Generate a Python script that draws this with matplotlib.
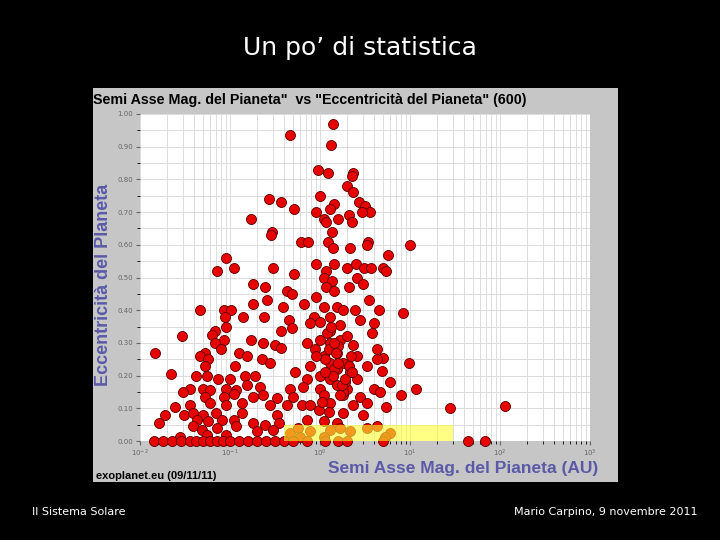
import matplotlib
matplotlib.use("Agg")
import matplotlib.pyplot as plt
import numpy as np
from matplotlib.patches import Rectangle
from matplotlib.ticker import LogLocator, FixedLocator, NullFormatter

# log10 of semi-major axis (AU), eccentricity
log_a = [-0.33,0.148,0.12,-0.02,0.085,0.37,0.35,0.3,0,0.37,-0.57,-0.43,0.15,0.43,0.5,-0.04,-0.29,0.11,0.32,0.55,0.47,
 -0.77,0.04,0.2,0.35,0.07,0.13,-0.53,-0.54,-0.21,-0.13,0.09,0.53,0.52,1.0,0.14,0.33,0.75,-1.04,-0.96,-0.52,-0.04,0.15,
 0.3,0.4,0.49,0.57,0.7,0.73,-1.15,-0.29,0.07,0.04,0.13,0.41,-0.75,0.48,-0.61,0.07,0.32,0.15,-0.37,-0.31,-0.04,-0.59,
 -0.18,-0.74,0.54,-0.41,0.04,0.19,0.26,0.39,-1.33,-1.07,-0.99,0.65,0.92,-1.06,-0.86,-0.62,-0.07,-0.34,0.11,0.44,-0.11,
 0,0.6,-1.04,-0.31,0.22,-1.17,-0.43,0.11,-1.2,0.58,-1.53,-0.77,-1.07,-1.17,-0.63,-0.14,0.11,0.37,-0.5,-0.43,-1.1,-0.06,
 0.63,-1.83,-1.28,-0.9,0.19,-1.33,-0.81,0.04,0.41,0.7,-1.24,-0.65,0.63,-0.56,0.11,0.26,0.99,-1.28,-0.94,-0.11,0.52,
 0.19,0.69,-1.66,-0.28,0.33,-1.38,-1.26,-0.83,-0.72,0,0.11,0.41,-1.13,-1.0,-0.15,0.78,-1.44,-1.52,-1.3,-1.22,-1.04,
 -0.93,-0.81,-0.67,-0.33,-0.19,0,0.19,0.3,0.6,0.67,1.07,-1.28,-1.07,-0.96,-0.75,-0.63,-0.48,-0.3,0.04,0.26,0.44,0.9,
 -1.22,-1.44,-1.61,-1.04,-0.87,-0.56,-0.37,-0.2,-0.11,0.11,0.37,0.52,0.73,1.44,2.06,-0.01,-1.72,-1.51,-1.41,-1.3,-1.16,
 -0.87,-0.48,0.26,0.48,-1.79,-1.37,-1.24,-1.09,-0.96,-0.74,-0.61,-0.46,-0.15,0.04,0.19,-1.41,-1.31,-1.15,-0.93,-0.7,
 -0.52,-0.33,-0.24,-0.11,0.11,0.22,0.33,0.52,0.63,0.78,0.72,-0.22,0.04,-1.26,-1.04,-1.56,
 -1.85,-1.75,-1.65,-1.55,-1.45,-1.38,-1.3,-1.22,-1.15,-1.08,-1.0,-0.9,-0.8,-0.7,-0.6,-0.5,-0.4,-0.3,-0.15,0.05,0.2,0.3,0.7,1.64,1.83,
 0.05,0.1,0.16,0.22,0.28,0.34,0.08,0.14,0.2,0.26,0.32,0.02,0.12,0.18,0.24,0.3,0.06,0.16,0.22,0.28,0.1,0.2,0.36,-0.05,0.0]
ecc = [0.935,0.97,0.905,0.83,0.82,0.82,0.81,0.78,0.75,0.76,0.74,0.73,0.725,0.73,0.72,0.70,0.71,0.71,0.69,0.70,0.70,
 0.68,0.68,0.68,0.67,0.67,0.64,0.64,0.63,0.61,0.61,0.61,0.61,0.60,0.60,0.59,0.59,0.57,0.56,0.53,0.53,0.54,0.54,
 0.53,0.54,0.53,0.53,0.53,0.52,0.52,0.51,0.52,0.50,0.49,0.50,0.48,0.48,0.47,0.47,0.47,0.46,0.46,0.45,0.44,0.43,
 0.42,0.42,0.43,0.41,0.41,0.41,0.40,0.40,0.40,0.40,0.40,0.40,0.39,0.38,0.38,0.38,0.38,0.37,0.38,0.37,0.36,
 0.365,0.36,0.35,0.345,0.355,0.335,0.335,0.335,0.325,0.33,0.32,0.31,0.31,0.30,0.30,0.30,0.30,0.295,0.295,0.285,0.28,0.28,
 0.28,0.27,0.27,0.27,0.27,0.26,0.26,0.26,0.26,0.255,0.25,0.25,0.25,0.24,0.24,0.24,0.24,0.23,0.23,0.23,0.23,
 0.22,0.215,0.205,0.21,0.21,0.20,0.20,0.20,0.20,0.20,0.19,0.19,0.19,0.19,0.19,0.18,0.16,0.15,0.16,0.155,0.16,
 0.155,0.17,0.165,0.16,0.165,0.16,0.17,0.16,0.16,0.15,0.16,0.135,0.135,0.145,0.135,0.14,0.13,0.135,0.14,0.14,0.135,0.14,
 0.115,0.11,0.105,0.11,0.115,0.11,0.11,0.11,0.11,0.115,0.11,0.115,0.105,0.10,0.108,0.095,0.08,0.08,0.085,0.08,0.085,
 0.085,0.08,0.085,0.08,0.056,0.065,0.06,0.065,0.065,0.055,0.05,0.055,0.065,0.06,0.055,0.045,0.035,0.04,0.045,0.03,
 0.035,0.025,0.04,0.03,0.035,0.04,0.03,0.04,0.045,0.025,0.012,0.013,0.013,0.018,0.018,0.013,
 0,0,0,0,0,0,0,0,0,0,0,0,0,0,0,0,0,0,0,0,0,0,0,0,0,
 0.25,0.28,0.22,0.31,0.18,0.26,0.33,0.20,0.29,0.15,0.23,0.12,0.35,0.27,0.17,0.32,0.21,0.30,0.14,0.19,0.09,0.24,0.21,0.26,0.31]

semi_axis = [10**v for v in log_a]
highlight = [0.4, 30.0, 0.0, 0.05]  # a_min, a_max, e_min, e_max

AR = "Liberation Sans"
fig = plt.figure(figsize=(7.2, 5.4), dpi=100, facecolor="black")
fig.text(0.5, 1-48/540, "Un po\u2019 di statistica", color="white", fontsize=18, ha="center", va="center")
fig.text(32/720, 1-512/540, "Il Sistema Solare", color="white", fontsize=8, va="center")
fig.text(697/720, 1-512/540, "Mario Carpino, 9 novembre 2011", color="white", fontsize=8, va="center", ha="right")

panel = Rectangle((93/720, 1-482/540), 525/720, 394/540, transform=fig.transFigure, facecolor="#c6c6c6",
                  edgecolor="none", zorder=0)
fig.patches.append(panel)
fig.text(93/720, 1-100/540, "Semi Asse Mag. del Pianeta\"  vs \"Eccentricit\u00e0 del Pianeta\" (600)",
         fontsize=10.3, fontweight="bold", color="black", va="center", ha="left", family=AR)
fig.text(104/720, 1-285/540, "Eccentricit\u00e0 del Planeta", rotation=90, fontsize=13, fontweight="bold",
         color="#5a5aa8", ha="center", va="center", family=AR)
fig.text(598/720, 1-468/540, "Semi Asse Mag. del Pianeta (AU)", fontsize=12.5, fontweight="bold",
         color="#5a5aa8", ha="right", va="center", family=AR)
fig.text(96/720, 1-476/540, "exoplanet.eu (09/11/11)", fontsize=8, fontweight="bold", color="black",
         va="center", family=AR)

ax = fig.add_axes([140/720, 1-441/540, 450/720, 327/540], zorder=2)
ax.set_facecolor("white")
ax.set_xscale("log")
ax.set_xlim(1e-2, 1e3)
ax.set_ylim(0, 1.0)
ax.xaxis.set_major_locator(LogLocator(base=10, numticks=10))
ax.xaxis.set_minor_locator(LogLocator(base=10, subs=np.arange(2, 10), numticks=20))
ax.xaxis.set_minor_formatter(NullFormatter())
ax.set_yticks(np.arange(0, 1.01, 0.1))
ax.set_yticklabels([f"{v:.2f}" for v in np.arange(0, 1.01, 0.1)])
ax.yaxis.set_minor_locator(FixedLocator(np.arange(0.05, 1.0, 0.1)))
ax.grid(True, which="both", color="#dcdcdc", lw=0.7)
ax.set_axisbelow(True)
ax.tick_params(labelsize=5, colors="#666666", length=3, pad=2)
for s in ax.spines.values():
    s.set_visible(False)
ax.scatter(semi_axis, ecc, s=52, c="#e60000", edgecolors="#5a0000", linewidths=0.6, zorder=3, clip_on=False)
ax.add_patch(Rectangle((highlight[0], highlight[2]), highlight[1]-highlight[0], highlight[3]-highlight[2],
                       facecolor="#ffff33", alpha=0.6, edgecolor="none", zorder=4))

fig.savefig("out.png", dpi=100, facecolor="black")
